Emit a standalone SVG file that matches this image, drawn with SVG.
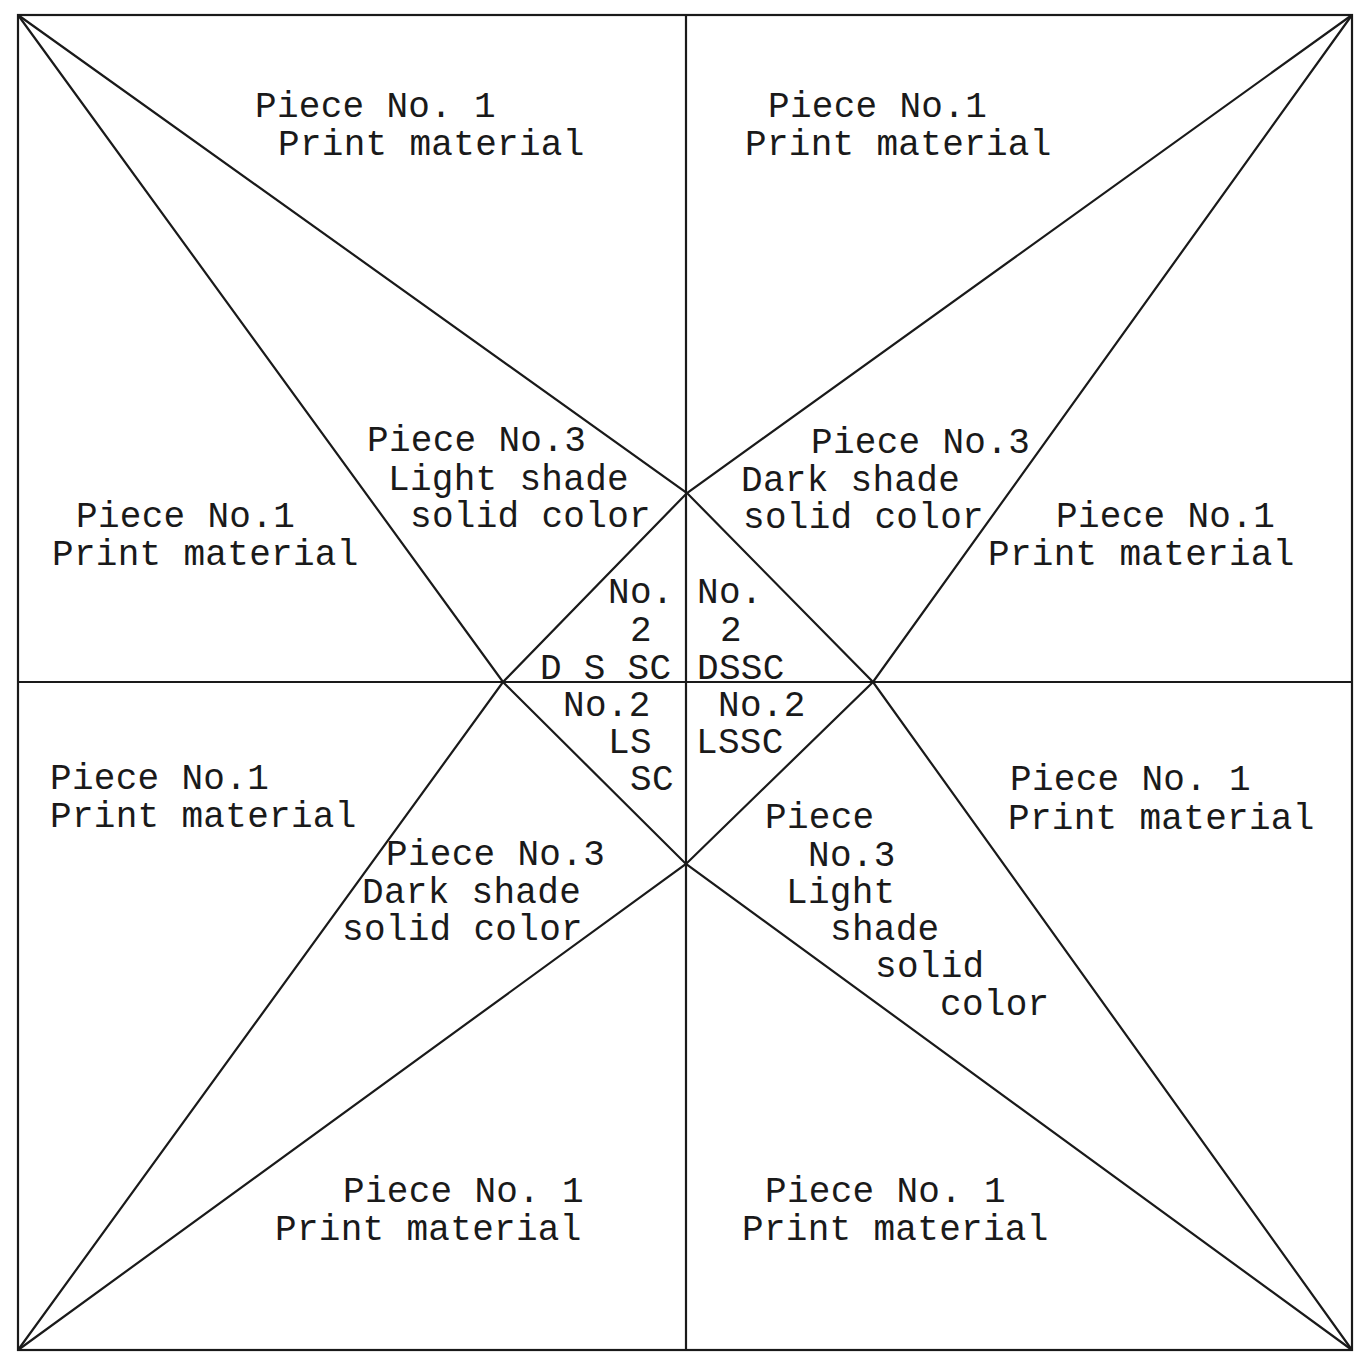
<svg xmlns="http://www.w3.org/2000/svg" width="1355" height="1353" viewBox="0 0 1355 1353">
<style>
.ln{stroke:#1a1a1a;stroke-width:2.2;fill:none}
.t{font-family:"Liberation Mono","Courier New",monospace;font-size:36px;letter-spacing:0.3px;fill:#1a1a1a}
</style>
<rect width="1355" height="1353" fill="#fff"/>
<g id="connectors">
<rect class="ln" x="18" y="15" width="1334" height="1335"/>
<line class="ln" x1="686" y1="15" x2="686" y2="1350"/>
<line class="ln" x1="18" y1="682" x2="1352" y2="682"/>
<polyline class="ln" points="18,15 687,493 873,682 1352,1350"/>
<polyline class="ln" points="18,15 503,682 686,864 1352,1350"/>
<polyline class="ln" points="1352,15 687,493 503,682 18,1350"/>
<polyline class="ln" points="1352,15 873,682 686,864 18,1350"/>
</g>
<g id="n1"><text class="t" x="255" y="117">Piece No. 1</text><text class="t" x="278" y="155">Print material</text></g>
<g id="n2"><text class="t" x="768" y="117">Piece No.1</text><text class="t" x="745" y="155">Print material</text></g>
<g id="n3"><text class="t" x="367" y="451">Piece No.3</text><text class="t" x="388" y="490">Light shade</text><text class="t" x="410" y="527">solid color</text></g>
<g id="n4"><text class="t" x="811" y="453">Piece No.3</text><text class="t" x="741" y="491">Dark shade</text><text class="t" x="743" y="528">solid color</text></g>
<g id="n5"><text class="t" x="76" y="527">Piece No.1</text><text class="t" x="52" y="565">Print material</text></g>
<g id="n6"><text class="t" x="1056" y="527">Piece No.1</text><text class="t" x="988" y="565">Print material</text></g>
<g id="n7"><text class="t" x="608" y="603">No.</text><text class="t" x="630" y="641">2</text><text class="t" x="540" y="679">D S SC</text></g>
<g id="n8"><text class="t" x="697" y="603">No.</text><text class="t" x="720" y="641">2</text><text class="t" x="697" y="679">DSSC</text></g>
<g id="n9"><text class="t" x="563" y="716">No.2</text><text class="t" x="608" y="753">LS</text><text class="t" x="630" y="790">SC</text></g>
<g id="n10"><text class="t" x="718" y="716">No.2</text><text class="t" x="696" y="753">LSSC</text></g>
<g id="n11"><text class="t" x="50" y="789">Piece No.1</text><text class="t" x="50" y="827">Print material</text></g>
<g id="n12"><text class="t" x="386" y="865">Piece No.3</text><text class="t" x="362" y="903">Dark shade</text><text class="t" x="342" y="940">solid color</text></g>
<g id="n13"><text class="t" x="1010" y="790">Piece No. 1</text><text class="t" x="1008" y="829">Print material</text></g>
<g id="n14"><text class="t" x="765" y="828">Piece</text><text class="t" x="808" y="866">No.3</text><text class="t" x="786" y="903">Light</text><text class="t" x="830" y="940">shade</text><text class="t" x="875" y="977">solid</text><text class="t" x="940" y="1015">color</text></g>
<g id="n15"><text class="t" x="343" y="1202">Piece No. 1</text><text class="t" x="275" y="1240">Print material</text></g>
<g id="n16"><text class="t" x="765" y="1202">Piece No. 1</text><text class="t" x="742" y="1240">Print material</text></g>
</svg>
